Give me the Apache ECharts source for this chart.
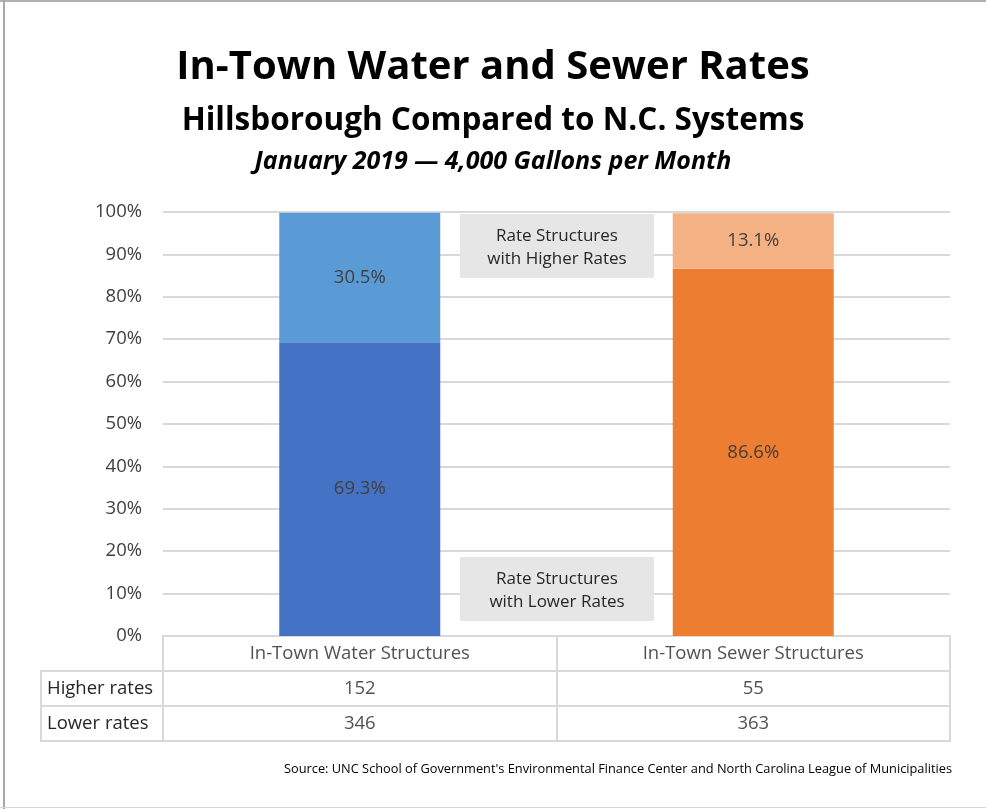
<!DOCTYPE html>
<html>
<head>
<meta charset="utf-8">
<script src="https://cdn.jsdelivr.net/npm/echarts@6/dist/echarts.min.js"></script>
<style>
  html, body { margin: 0; padding: 0; background: #fff; }
  #main { width: 986px; height: 809px; }
</style>
</head>
<body>
<div id="main"></div>
<script>
// chart data
const categories = ['In-Town Water Structures', 'In-Town Sewer Structures'];
const lowerPct = [69.3, 86.6];
const higherPct = [30.5, 13.1];
const rowNames = ['Higher rates', 'Lower rates'];
const higherCount = [152, 55];
const lowerCount = [346, 363];
const yTicks = [0, 10, 20, 30, 40, 50, 60, 70, 80, 90, 100];

const lowerColors = ['#4472C4', '#ED7D31'];
const higherColors = ['#5B9BD5', '#F4B183'];
const FONT = '"Open Sans"';
const GRID_LINE = '#d9d9d9';
const TXT = 18.5;

const chart = echarts.init(document.getElementById('main'));

// table cells: header row + counts
const tableRows = ['header'].concat(rowNames);
let cellData = [];
categories.forEach((c, i) => {
    cellData.push([i, 'header', c]);
    cellData.push([i, rowNames[0], higherCount[i]]);
    cellData.push([i, rowNames[1], lowerCount[i]]);
});

function annotation(top, lines) {
    return {
        type: 'group',
        left: 460,
        top: top,
        z: 100,
        children: [
            { type: 'rect', z: 100, shape: { x: 0, y: 0, width: 194, height: 64 }, style: { fill: '#e7e6e6' } },
            {
                type: 'text', z: 101, x: 97, y: 34,
                style: {
                    text: lines, fill: '#262626', font: '17px ' + FONT,
                    align: 'center', verticalAlign: 'middle', lineHeight: 23
                }
            }
        ]
    };
}

const option = {
    animation: false,
    backgroundColor: '#fff',
    textStyle: { fontFamily: FONT },
    title: [
        { text: 'In-Town Water and Sewer Rates', left: 'center', top: 43,
          textStyle: { fontSize: 40, fontWeight: 'bold', color: '#000', fontFamily: FONT } },
        { text: 'Hillsborough Compared to N.C. Systems', left: 'center', top: 100,
          textStyle: { fontSize: 31.5, fontWeight: 'bold', color: '#000', fontFamily: FONT } },
        { text: 'January 2019 \u2014 4,000 Gallons per Month', left: 'center', top: 144,
          textStyle: { fontSize: 25, fontWeight: 'bold', fontStyle: 'italic', color: '#000', fontFamily: FONT } },
        { text: "Source: UNC School of Government's Environmental Finance Center and North Carolina League of Municipalities",
          right: 29, top: 758,
          textStyle: { fontSize: 12.8, fontWeight: 'normal', color: '#000', fontFamily: FONT } }
    ],
    grid: [
        { left: 163, width: 787, top: 212, height: 424 },
        { left: 163, width: 787, top: 636, height: 105, show: true, borderColor: GRID_LINE, borderWidth: 2 },
        { left: 41, width: 122, top: 671, height: 70, show: true, borderColor: GRID_LINE, borderWidth: 2 }
    ],
    xAxis: [
        { type: 'category', gridIndex: 0, data: categories,
          axisLine: { show: false }, axisTick: { show: false }, axisLabel: { show: false } },
        { type: 'category', gridIndex: 1, data: categories,
          axisLine: { show: false }, axisTick: { show: false }, axisLabel: { show: false },
          splitLine: { show: true, lineStyle: { color: GRID_LINE, width: 2 } } },
        { type: 'value', gridIndex: 2, show: false }
    ],
    yAxis: [
        { type: 'value', gridIndex: 0, min: 0, max: 100, interval: 10,
          axisLine: { show: false }, axisTick: { show: false },
          axisLabel: { formatter: '{value}%', fontSize: TXT, color: '#404040', margin: 21, fontFamily: FONT,
                       customValues: yTicks },
          splitLine: { lineStyle: { color: GRID_LINE, width: 2 } } },
        { type: 'category', gridIndex: 1, data: tableRows, inverse: true,
          axisLine: { show: false }, axisTick: { show: false }, axisLabel: { show: false },
          splitLine: { show: true, lineStyle: { color: GRID_LINE, width: 2 } } },
        { type: 'category', gridIndex: 2, data: rowNames, inverse: true,
          axisLine: { show: false }, axisTick: { show: false },
          axisLabel: { inside: true, margin: 6, align: 'left', fontSize: TXT, color: '#262626', fontFamily: FONT },
          splitLine: { show: true, lineStyle: { color: GRID_LINE, width: 2 } } }
    ],
    series: [
        {
            name: 'Lower rates', type: 'bar', stack: 'total', xAxisIndex: 0, yAxisIndex: 0,
            barWidth: 161,
            data: lowerPct.map((v, i) => ({ value: v, itemStyle: { color: lowerColors[i] } })),
            label: { show: true, position: 'inside', formatter: p => p.value.toFixed(1) + '%',
                     fontSize: TXT, color: '#404040', fontFamily: FONT }
        },
        {
            name: 'Higher rates', type: 'bar', stack: 'total', xAxisIndex: 0, yAxisIndex: 0,
            barWidth: 161,
            data: higherPct.map((v, i) => ({ value: v, itemStyle: { color: higherColors[i] } })),
            label: { show: true, position: 'inside', formatter: p => p.value.toFixed(1) + '%',
                     fontSize: TXT, color: '#404040', fontFamily: FONT }
        },
        {
            type: 'scatter', xAxisIndex: 1, yAxisIndex: 1,
            symbolSize: 1, itemStyle: { color: 'rgba(0,0,0,0)' },
            data: cellData,
            label: { show: true, position: 'inside', formatter: p => String(p.data[2]),
                     fontSize: TXT, color: '#262626', fontFamily: FONT }
        }
    ],
    graphic: [
        annotation(214, 'Rate Structures\nwith Higher Rates'),
        annotation(557, 'Rate Structures\nwith Lower Rates'),
        // picture frame: top and left edges darker, bottom edge light
        { type: 'line', silent: true, shape: { x1: 0, y1: 1, x2: 986, y2: 1 },
          style: { stroke: '#b0b0b0', lineWidth: 2 } },
        { type: 'line', silent: true, shape: { x1: 4, y1: 0, x2: 4, y2: 809 },
          style: { stroke: '#a8a8a8', lineWidth: 2 } },
        { type: 'line', silent: true, shape: { x1: 0, y1: 807.5, x2: 986, y2: 807.5 },
          style: { stroke: '#d9d9d9', lineWidth: 1 } }
    ]
};

chart.setOption(option);
window.addEventListener('resize', () => chart.resize());
</script>
</body>
</html>
